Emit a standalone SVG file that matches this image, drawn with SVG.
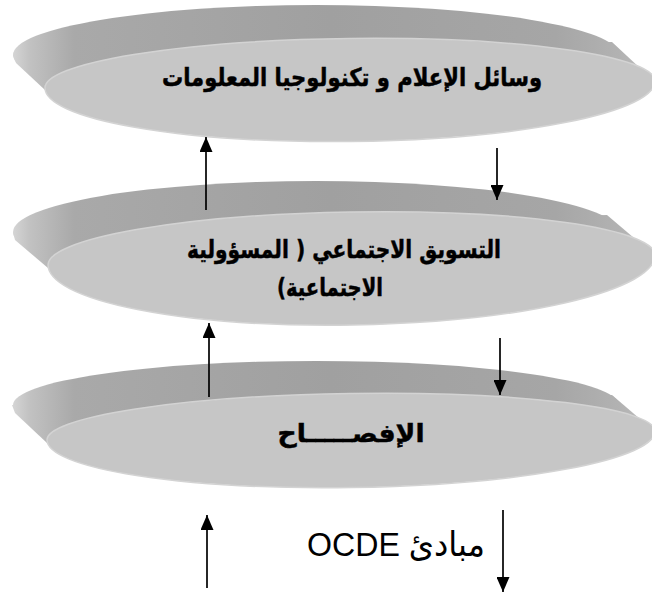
<svg xmlns="http://www.w3.org/2000/svg" width="652" height="596" viewBox="0 0 652 596">
<style>
.rim{fill:url(#rimG);stroke:none}
.face{fill:#c6c6c6;stroke:#d3d3d3;stroke-width:1.5}
.lbl{font-family:"DejaVu Sans",sans-serif;font-weight:bold;font-size:25px;fill:#000;stroke:#000;stroke-width:0.5;text-anchor:middle;direction:rtl}
.arr{stroke:#000;stroke-width:1.7;fill:none;marker-end:url(#ah)}
.plain{font-family:"Liberation Sans","DejaVu Sans",sans-serif;font-size:34px;fill:#000;text-anchor:middle;direction:rtl}
</style>
<defs>
<linearGradient id="rimG" gradientUnits="userSpaceOnUse" x1="10" y1="0" x2="652" y2="0">
<stop offset="0" stop-color="#d8d8d8"/>
<stop offset="0.03" stop-color="#c2c2c2"/>
<stop offset="0.1" stop-color="#a9a9a9"/>
<stop offset="0.5" stop-color="#a0a0a0"/>
<stop offset="0.85" stop-color="#a6a6a6"/>
<stop offset="0.95" stop-color="#b2b2b2"/>
<stop offset="1" stop-color="#bebebe"/>
</linearGradient>
<marker id="ah" viewBox="0 0 15 13" markerWidth="15" markerHeight="13" refX="15" refY="6.5" markerUnits="userSpaceOnUse" orient="auto">
<path d="M0,0 L15,6.5 L0,13 Z" fill="#000"/>
</marker>
</defs>

<g id="disc1">
<ellipse class="rim" cx="316" cy="55" rx="303" ry="50"/>
<polygon class="rim" points="13,55 612,42 654,81 45,90 16,63"/>
<path class="face" d="M45,88 A305,46 -0.66 0 1 655,81 A305,57 -0.66 0 1 45,88 Z"/>
<text class="lbl" x="352" y="86" textLength="380" lengthAdjust="spacingAndGlyphs">وسائل الإعلام و تكنولوجيا المعلومات</text>
</g>

<g id="disc2">
<ellipse class="rim" cx="316" cy="232" rx="303" ry="51"/>
<polygon class="rim" points="13,232 607,215 654,255 48,268 15,240"/>
<path class="face" d="M48,265 A303.5,48 -0.95 0 1 655,255 A303.5,65 -0.95 0 1 48,265 Z"/>
<text class="lbl" x="344" y="258" textLength="314" lengthAdjust="spacingAndGlyphs">التسويق الاجتماعي ( المسؤولية</text>
<text class="lbl" x="330" y="296" textLength="106" lengthAdjust="spacingAndGlyphs">الاجتماعية)</text>
</g>

<g id="disc3">
<ellipse class="rim" cx="316" cy="405" rx="303" ry="44"/>
<polygon class="rim" points="12,405 612,395 654,431 47,443 15,413"/>
<path class="face" d="M47,440 A304,42 -0.85 0 1 655,431 A304,52 -0.85 0 1 47,440 Z"/>
<text class="lbl" x="351" y="442" textLength="147" lengthAdjust="spacingAndGlyphs">الإفصـــــاح</text>
</g>

<g id="label-ocde">
<text class="plain" x="396" y="556" textLength="178" lengthAdjust="spacingAndGlyphs">مبادئ OCDE</text>
</g>

<g id="connectors">
<line class="arr" x1="206" y1="210" x2="206" y2="137"/>
<line class="arr" x1="497" y1="148" x2="497" y2="200"/>
<line class="arr" x1="209" y1="397" x2="209" y2="323"/>
<line class="arr" x1="500" y1="338" x2="500" y2="395"/>
<line class="arr" x1="207" y1="588" x2="207" y2="515"/>
<line class="arr" x1="503" y1="510" x2="503" y2="592"/>
</g>
</svg>
